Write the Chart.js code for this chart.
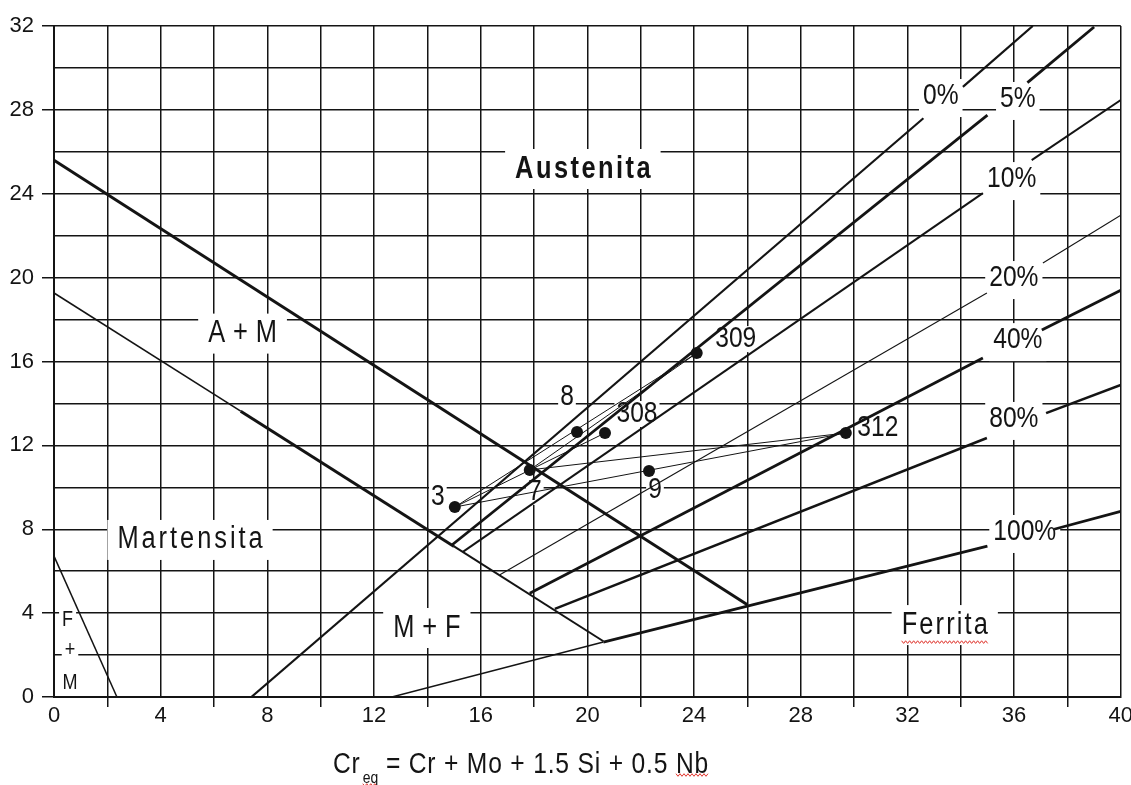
<!DOCTYPE html>
<html><head><meta charset="utf-8">
<script src="https://cdn.jsdelivr.net/npm/chart.js@4.4.1/dist/chart.umd.min.js"></script>
<style>html,body{margin:0;padding:0;background:#fff;overflow:hidden}#wrap{width:1131px;height:785px}</style>
</head><body><div id="wrap"><canvas id="c" width="1131" height="785"></canvas></div>
<script>
// ---------------- DATA ----------------
const xTickValues = [0, 4, 8, 12, 16, 20, 24, 28, 32, 36, 40];
const xTickLabels = ['0', '4', '8', '12', '16', '20', '24', '28', '32', '36', '40'];
const yTickValues = [0, 4, 8, 12, 16, 20, 24, 28, 32];
const yTickLabels = ['0', '4', '8', '12', '16', '20', '24', '28', '32'];

// weld / alloy points
const pointNames = ['3', '7', '8', '308', '309', '9', '312'];
const pointCr = [15.03, 17.84, 19.61, 20.66, 24.10, 22.31, 29.69];
const pointNi = [9.06, 10.83, 12.64, 12.59, 16.40, 10.78, 12.59];

// dilution (tie) lines between points
const tieFrom = ['3', '3', '3', '7', '7'];
const tieTo = ['309', '308', '312', '312', '309'];

// iso-ferrite lines: lower segment and upper segment (after the label)
const ferriteNames = ['0%', '5%', '10%', '20%', '40%', '80%', '100%'];
const ferriteA_x0 = [7.40, 14.92, 15.33, 16.72, 17.84, 18.78, 20.60];
const ferriteA_y0 = [0.00, 7.25, 6.92, 5.83, 4.95, 4.20, 2.62];
const ferriteA_x1 = [32.60, 35.00, 34.83, 34.98, 34.83, 34.98, 35.00];
const ferriteA_y1 = [27.60, 27.75, 24.03, 19.27, 16.17, 12.35, 7.20];
const ferriteB_x0 = [34.08, 36.50, 36.66, 37.08, 37.04, 37.20, 37.50];
const ferriteB_y0 = [29.10, 29.30, 25.60, 20.70, 17.50, 13.54, 8.00];
const ferriteB_x1 = [36.70, 39.00, 40.00, 40.00, 40.00, 40.00, 40.00];
const ferriteB_y1 = [32.00, 31.95, 28.47, 22.98, 19.40, 14.88, 8.85];
const ferriteLabelCr = [33.25, 36.14, 35.91, 35.99, 36.14, 35.99, 36.40];
const ferriteLabelNi = [28.66, 28.52, 24.70, 19.98, 17.02, 13.26, 7.87];

// phase boundaries
const boundX0 = [0.00, 0.00, 7.00, 15.00, 0.00, 12.67];
const boundY0 = [25.60, 19.27, 13.63, 7.18, 6.72, 0.00];
const boundX1 = [26.00, 7.00, 15.00, 20.60, 2.36, 20.60];
const boundY1 = [4.40, 13.63, 7.18, 2.66, 0.00, 2.62];

// region labels
const regionNames = ['Austenita', 'A + M', 'Martensita', 'M + F', 'Ferrita', 'F', '+', 'M'];
const regionCr = [19.83, 7.07, 5.10, 13.98, 33.40, 0.51, 0.60, 0.60];
const regionNi = [25.18, 17.33, 7.49, 3.29, 3.43, 3.67, 2.24, 0.67];

// ---------------- STYLE ----------------
const INK = '#141414';
const ferriteWidth = [2.2, 2.8, 2.0, 1.1, 2.8, 2.5, 2.8];
const boundWidth = [3.0, 1.6, 3.0, 2.0, 1.5, 1.5];
const pointLabelOffset = [[-17, -10], [5, 22], [-10, -35], [32, -19], [39, -14], [6, 19], [32, -5]];
const regionSize = [31, 31, 31, 31, 31, 22, 22, 22];
const regionBold = [true, false, false, false, false, false, false, false];
const regionSpacing = [3, 0.5, 3.6, 0.5, 2.6, 0, 0, 0];

function fontAvailable(fam) {
  const c = document.createElement('canvas').getContext('2d');
  const s = 'Martensita 0123456789%';
  c.font = '40px monospace'; const a = c.measureText(s).width;
  c.font = '40px ' + fam + ', monospace'; const b = c.measureText(s).width;
  return Math.abs(a - b) > 0.5;
}
const hasNarrow = fontAvailable("'Liberation Sans Narrow'");
const FAM = hasNarrow ? "'Liberation Sans Narrow', 'Liberation Sans', sans-serif" : "'Liberation Sans', Arial, sans-serif";
const SX = hasNarrow ? 1 : 0.82;

function setFont(ctx, size, bold, ls) {
  ctx.font = (bold ? 'bold ' : '') + size + 'px ' + FAM;
  ctx.letterSpacing = (ls || 0) + 'px';
}
function textWidth(ctx, s, size, bold, ls) {
  ctx.save(); setFont(ctx, size, bold, ls);
  const w = ctx.measureText(s).width - (ls || 0);
  ctx.restore();
  return w * SX;
}
function drawText(ctx, s, x, y, size, bold, ls, align, baseline) {
  ctx.save();
  setFont(ctx, size, bold, ls);
  ctx.fillStyle = INK;
  ctx.textBaseline = baseline || 'middle';
  ctx.textAlign = 'left';
  const w = (ctx.measureText(s).width - (ls || 0));
  ctx.translate(x, y);
  ctx.scale(SX, 1);
  ctx.fillText(s, align === 'left' ? 0 : -w / 2, 0);
  ctx.restore();
}
function whiteBox(ctx, cx, cy, w, h) {
  ctx.save(); ctx.fillStyle = '#ffffff';
  ctx.fillRect(cx - w / 2, cy - h / 2, w, h);
  ctx.restore();
}
function squiggle(ctx, x0, x1, y) {
  ctx.save(); ctx.strokeStyle = '#e0342c'; ctx.lineWidth = 1;
  ctx.beginPath();
  let i = 0;
  for (let x = x0; x <= x1; x += 2, i++) {
    const yy = y + (i % 2 ? 1.3 : -1.3);
    if (i === 0) ctx.moveTo(x, yy); else ctx.lineTo(x, yy);
  }
  ctx.stroke(); ctx.restore();
}

// ---------------- DATASETS ----------------
const datasets = [];
function seg(x0, y0, x1, y1, w) {
  datasets.push({
    type: 'scatter', showLine: true, data: [{ x: x0, y: y0 }, { x: x1, y: y1 }],
    borderColor: INK, borderWidth: w, pointRadius: 0, fill: false, tension: 0
  });
}
for (let i = 0; i < boundX0.length; i++) seg(boundX0[i], boundY0[i], boundX1[i], boundY1[i], boundWidth[i]);
for (let i = 0; i < ferriteNames.length; i++) {
  seg(ferriteA_x0[i], ferriteA_y0[i], ferriteA_x1[i], ferriteA_y1[i], ferriteWidth[i]);
  seg(ferriteB_x0[i], ferriteB_y0[i], ferriteB_x1[i], ferriteB_y1[i], ferriteWidth[i]);
}
for (let i = 0; i < tieFrom.length; i++) {
  const a = pointNames.indexOf(tieFrom[i]), b = pointNames.indexOf(tieTo[i]);
  seg(pointCr[a], pointNi[a], pointCr[b], pointNi[b], 1);
}
datasets.push({
  type: 'scatter', showLine: false,
  data: pointNames.map((n, i) => ({ x: pointCr[i], y: pointNi[i] })),
  pointRadius: 6, pointBackgroundColor: INK, pointBorderColor: INK, pointBorderWidth: 0
});

// ---------------- ANNOTATION PLUGIN ----------------
const annot = {
  id: 'annot',
  beforeDatasetsDraw(chart) {
    const ctx = chart.ctx, xs = chart.scales.x, ys = chart.scales.y;
    ferriteNames.forEach((s, i) => {
      const w = textWidth(ctx, s, 30, false, 0);
      whiteBox(ctx, xs.getPixelForValue(ferriteLabelCr[i]), ys.getPixelForValue(ferriteLabelNi[i]) + 2, w + 8, 38);
    });
    regionNames.forEach((s, i) => {
      const w = textWidth(ctx, s, regionSize[i], regionBold[i], regionSpacing[i]);
      const pad = regionSize[i] > 25 ? 10 : 3;
      whiteBox(ctx, xs.getPixelForValue(regionCr[i]), ys.getPixelForValue(regionNi[i]), w + 2 * pad, regionSize[i] > 25 ? 40 : 20);
    });
    pointNames.forEach((s, i) => {
      const w = textWidth(ctx, s, 30, false, 0);
      const cx = xs.getPixelForValue(pointCr[i]) + pointLabelOffset[i][0];
      const cy = ys.getPixelForValue(pointNi[i]) + pointLabelOffset[i][1];
      whiteBox(ctx, cx, cy, w + 4, 26);
    });
  },
  afterDatasetsDraw(chart) {
    const ctx = chart.ctx, xs = chart.scales.x, ys = chart.scales.y, ca = chart.chartArea;
    ferriteNames.forEach((s, i) => {
      drawText(ctx, s, xs.getPixelForValue(ferriteLabelCr[i]), ys.getPixelForValue(ferriteLabelNi[i]), 30, false, 0);
    });
    regionNames.forEach((s, i) => {
      drawText(ctx, s, xs.getPixelForValue(regionCr[i]), ys.getPixelForValue(regionNi[i]), regionSize[i], regionBold[i], regionSpacing[i]);
    });
    // spell-check underline under "Ferrita"
    {
      const i = regionNames.indexOf('Ferrita');
      const w = textWidth(ctx, 'Ferrita', regionSize[i], false, regionSpacing[i]);
      const cx = xs.getPixelForValue(regionCr[i]);
      squiggle(ctx, cx - w / 2, cx + w / 2, ys.getPixelForValue(regionNi[i]) + 17);
    }
    pointNames.forEach((s, i) => {
      const cx = xs.getPixelForValue(pointCr[i]) + pointLabelOffset[i][0];
      const cy = ys.getPixelForValue(pointNi[i]) + pointLabelOffset[i][1];
      drawText(ctx, s, cx, cy, 30, false, 0);
    });
    // x-axis title: Cr_eq = Cr + Mo + 1.5 Si + 0.5 Nb
    const x0 = ca.left + 279, base = ca.bottom + 76;
    drawText(ctx, 'Cr', x0, base, 30, false, 1, 'left', 'alphabetic');
    const w1 = textWidth(ctx, 'Cr', 30, false, 1);
    drawText(ctx, 'eq', x0 + w1 + 3, base + 10, 17, false, 0, 'left', 'alphabetic');
    const w2 = textWidth(ctx, 'eq', 17, false, 0);
    squiggle(ctx, x0 + w1 + 3, x0 + w1 + 3 + w2, base + 12);
    const rest = ' = Cr + Mo + 1.5 Si + 0.5 ';
    const x2 = x0 + w1 + 3 + w2;
    drawText(ctx, rest, x2, base, 30, false, 1, 'left', 'alphabetic');
    const w3 = textWidth(ctx, rest, 30, false, 1) + 1;
    drawText(ctx, 'Nb', x2 + w3, base, 30, false, 1, 'left', 'alphabetic');
    const w4 = textWidth(ctx, 'Nb', 30, false, 1);
    squiggle(ctx, x2 + w3, x2 + w3 + w4, base + 2);
  }
};

// ---------------- CHART ----------------
const tickFont = { family: FAM, size: hasNarrow ? 26 : 22, lineHeight: 1 };
new Chart(document.getElementById('c'), {
  type: 'scatter',
  data: { datasets },
  plugins: [annot],
  options: {
    responsive: false, animation: false, devicePixelRatio: 1,
    layout: { padding: { top: 26, right: 10, bottom: 0, left: 0 }, autoPadding: false },
    plugins: { legend: { display: false }, tooltip: { enabled: false }, title: { display: false } },
    scales: {
      x: {
        type: 'linear', min: 0, max: 40,
        ticks: {
          stepSize: 2, autoSkip: false, maxRotation: 0, color: INK, font: tickFont, padding: -2,
          callback: v => { const k = xTickValues.indexOf(v); return k >= 0 ? xTickLabels[k] : ''; }
        },
        grid: {
          color: INK, lineWidth: 1.5, tickLength: 10, tickWidth: 1.5,
          tickColor: c => (xTickValues.indexOf(c.tick.value) >= 0 ? 'rgba(0,0,0,0)' : INK)
        },
        border: { color: INK, width: 2 },
        afterFit: s => { s.height = 88; }
      },
      y: {
        type: 'linear', min: 0, max: 32,
        ticks: {
          stepSize: 2, autoSkip: false, color: INK, font: tickFont, padding: 8,
          callback: v => { const k = yTickValues.indexOf(v); return k >= 0 ? yTickLabels[k] : ''; }
        },
        grid: {
          color: INK, lineWidth: 1.5, tickLength: 12, tickWidth: 1.5,
          tickColor: c => (yTickValues.indexOf(c.tick.value) >= 0 ? INK : 'rgba(0,0,0,0)')
        },
        border: { color: INK, width: 2 },
        afterFit: s => { s.width = 54; }
      }
    }
  }
});
</script>
</body></html>
